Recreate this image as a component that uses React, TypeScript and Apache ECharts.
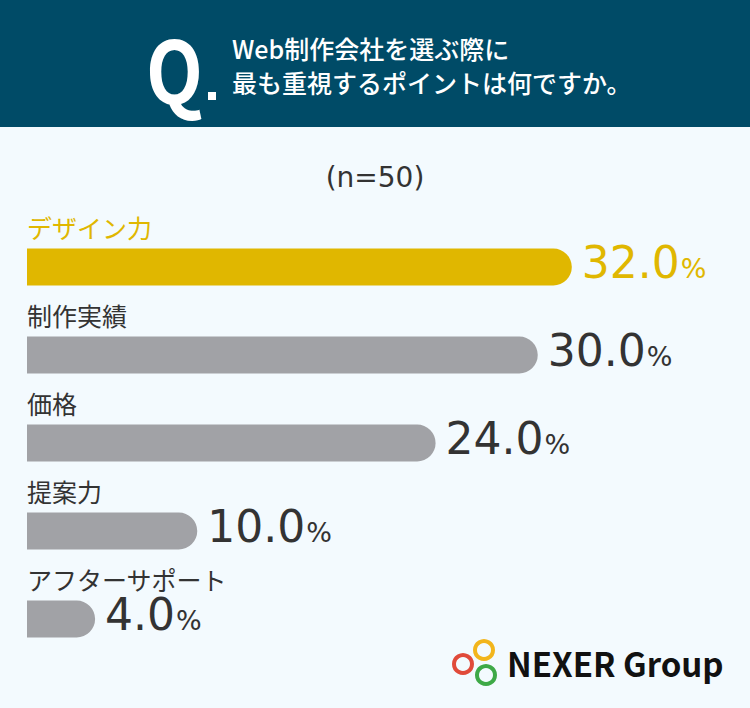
import React, { useEffect, useRef } from "react";
import * as echarts from "echarts";

const categories = ["デザイン力", "制作実績", "価格", "提案力", "アフターサポート"];
const values = [32.0, 30.0, 24.0, 10.0, 4.0];
const highlightIndex = 0;
const titleLines = ["Web制作会社を選ぶ際に", "最も重視するポイントは何ですか。"];
const sampleText = "(n=50)";

const GOLD = "#E0B700";
const GRAY = "#A1A2A6";
const DARK = "#333333";
const JP = "'Noto Sans CJK JP', 'Noto Sans', sans-serif";
const NUM = "'DejaVu Sans', 'Noto Sans', sans-serif";

export default function App() {
  const ref = useRef<HTMLDivElement>(null);
  useEffect(() => {
    document.body.style.margin = "0";
    const chart = echarts.init(ref.current!, null, { renderer: "svg" });
    chart.setOption({
      animation: false,
      backgroundColor: "#F3FAFE",
      grid: { left: 27, right: 42, top: 223, bottom: 45, containLabel: false },
      xAxis: { type: "value", min: 0, max: 40, show: false },
      yAxis: {
        type: "category",
        data: categories,
        inverse: true,
        show: false,
      },
      series: [
        {
          type: "bar",
          barWidth: 37,
          data: values.map((v, i) => ({
            value: v,
            itemStyle: { color: i === highlightIndex ? GOLD : GRAY, borderRadius: [0, 18.5, 18.5, 0] },
            label: { color: i === highlightIndex ? GOLD : DARK },
          })),
          label: {
            show: true,
            position: "right",
            distance: 10,
            formatter: (p: any) => `{v|${Number(p.value).toFixed(1)}}{p|%}`,
            rich: {
              v: { fontFamily: NUM, fontSize: 44, lineHeight: 34, fontWeight: 400, verticalAlign: "bottom" },
              p: {
                fontFamily: NUM,
                fontSize: 27,
                lineHeight: 22,
                fontWeight: 400,
                verticalAlign: "bottom",
                padding: [0, 0, 2, 1],
              },
            },
          },
        },
        {
          type: "bar",
          barWidth: 37,
          barGap: "-100%",
          silent: true,
          data: values.map((v, i) => ({
            value: v,
            itemStyle: { color: "rgba(0,0,0,0)" },
            label: { color: i === highlightIndex ? GOLD : DARK },
          })),
          label: {
            show: true,
            position: [0, -9],
            align: "left",
            verticalAlign: "bottom",
            fontFamily: JP,
            fontSize: 25,
            lineHeight: 26,
            formatter: (p: any) => categories[p.dataIndex],
          },
        },
      ],
      graphic: [
        { type: "rect", left: 0, top: 0, shape: { width: 750, height: 127 }, style: { fill: "#004B67" }, z: 0 },
        {
          type: "text",
          x: 146,
          y: 66,
          scaleX: 0.86,
          style: { text: "Q", fill: "#fff", font: `bold 86px ${JP}`, lineHeight: 80, verticalAlign: "middle" },
        },
        { type: "rect", shape: { x: 208, y: 92, width: 8, height: 8 }, style: { fill: "#fff" } },
        {
          type: "text",
          x: 232,
          y: 48,
          style: { text: titleLines[0], fill: "#fff", font: `500 25px ${JP}`, verticalAlign: "middle" },
        },
        {
          type: "text",
          x: 232,
          y: 82,
          style: { text: titleLines[1], fill: "#fff", font: `500 25px ${JP}`, verticalAlign: "middle" },
        },
        {
          type: "text",
          x: 375,
          y: 177,
          style: { text: sampleText, fill: DARK, font: `400 28px ${NUM}`, align: "center", verticalAlign: "middle" },
        },
        { type: "circle", shape: { cx: 463, cy: 664, r: 9 }, style: { fill: "none", stroke: "#E04A3A", lineWidth: 4 } },
        { type: "circle", shape: { cx: 484, cy: 650, r: 9 }, style: { fill: "none", stroke: "#F2B51C", lineWidth: 4 } },
        { type: "circle", shape: { cx: 486, cy: 675, r: 9 }, style: { fill: "none", stroke: "#3EA947", lineWidth: 4 } },
        {
          type: "text",
          x: 507,
          y: 663,
          style: { text: "NEXER Group", fill: "#111", font: `bold 33px ${JP}`, verticalAlign: "middle" },
        },
      ],
    });
    return () => chart.dispose();
  }, []);
  return <div ref={ref} style={{ width: 750, height: 708 }} />;
}
